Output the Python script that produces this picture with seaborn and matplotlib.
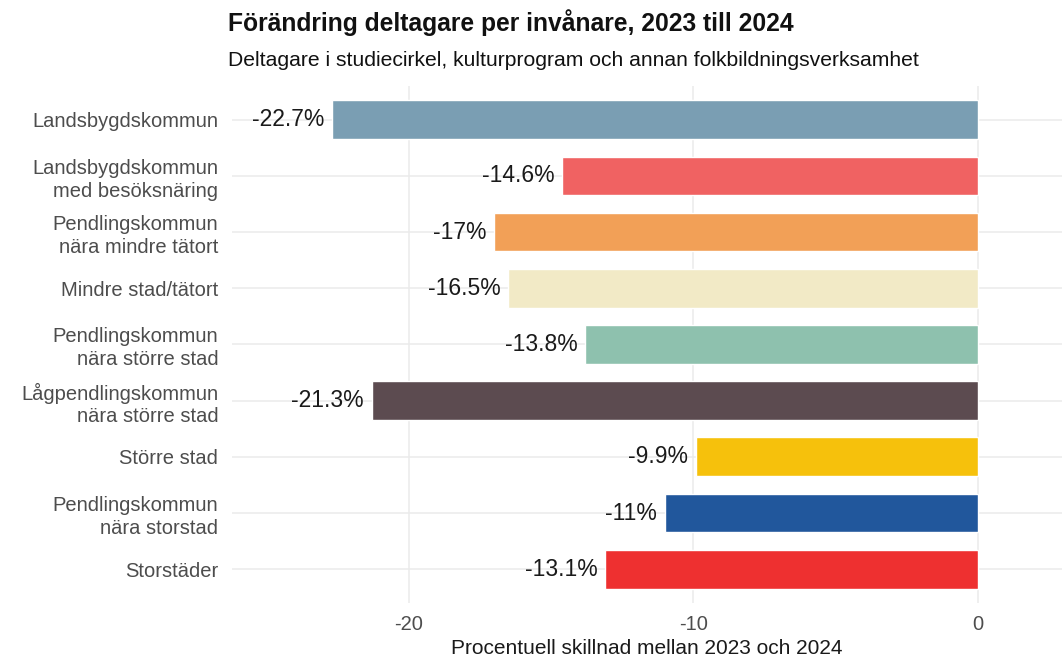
import pandas as pd
import seaborn as sns
import matplotlib.pyplot as plt

# Data
kategorier = [
    'Landsbygdskommun',
    'Landsbygdskommun\nmed besöksnäring',
    'Pendlingskommun\nnära mindre tätort',
    'Mindre stad/tätort',
    'Pendlingskommun\nnära större stad',
    'Lågpendlingskommun\nnära större stad',
    'Större stad',
    'Pendlingskommun\nnära storstad',
    'Storstäder',
]
forandring = [-22.7, -14.6, -17.0, -16.5, -13.8, -21.3, -9.9, -11.0, -13.1]
etiketter = ['-22.7%', '-14.6%', '-17%', '-16.5%', '-13.8%', '-21.3%', '-9.9%', '-11%', '-13.1%']
farger = ['#7a9eb3', '#f06262', '#f2a057', '#f2eac6', '#8ec1ae',
          '#5c4b50', '#f6c10c', '#21579c', '#ee3030']

df = pd.DataFrame({'kategori': kategorier, 'varde': forandring})

sns.set_theme(style='whitegrid')
plt.rcParams['font.family'] = ['Liberation Sans', 'DejaVu Sans']

fig = plt.figure(figsize=(10.62, 6.59), dpi=100)
ax = fig.add_axes([0.2185, 0.085, 0.7815, 0.7845])

sns.barplot(data=df, y='kategori', x='varde', hue='kategori', palette=farger,
            legend=False, width=0.69, orient='h', ax=ax, saturation=1)

for i, (v, txt) in enumerate(zip(forandring, etiketter)):
    ax.annotate(txt, xy=(v, i), xytext=(-5.5, 0), textcoords='offset points',
                ha='right', va='center', fontsize=16.5, color='#1a1a1a')

ax.set_xlim(-26.2, 2.95)
ax.set_ylim(8.6, -0.6)
ax.set_xticks([-20, -10, 0])
ax.set_xticklabels(['-20', '-10', '0'])
ax.tick_params(axis='x', labelsize=14.5, colors='#4d4d4d', pad=3)
ax.tick_params(axis='y', labelsize=14.5, colors='#4d4d4d', pad=4)
for lab in ax.get_yticklabels():
    lab.set_horizontalalignment('right')
    lab.set_multialignment('right')
    lab.set_linespacing(1.25)
ax.set_ylabel('')
ax.set_xlabel('Procentuell skillnad mellan 2023 och 2024', fontsize=15,
              color='#1a1a1a', labelpad=3)
ax.grid(True, color='#ebebeb', linewidth=1.1)
ax.set_axisbelow(True)
for s in ax.spines.values():
    s.set_visible(False)

fig.text(0.2147, 0.965, 'Förändring deltagare per invånare, 2023 till 2024',
         fontsize=17.7, fontweight='bold', ha='left', va='center', color='#111111')
fig.text(0.2147, 0.908, 'Deltagare i studiecirkel, kulturprogram och annan folkbildningsverksamhet',
         fontsize=15.2, ha='left', va='center', color='#111111')

fig.savefig('out.png', dpi=100)
